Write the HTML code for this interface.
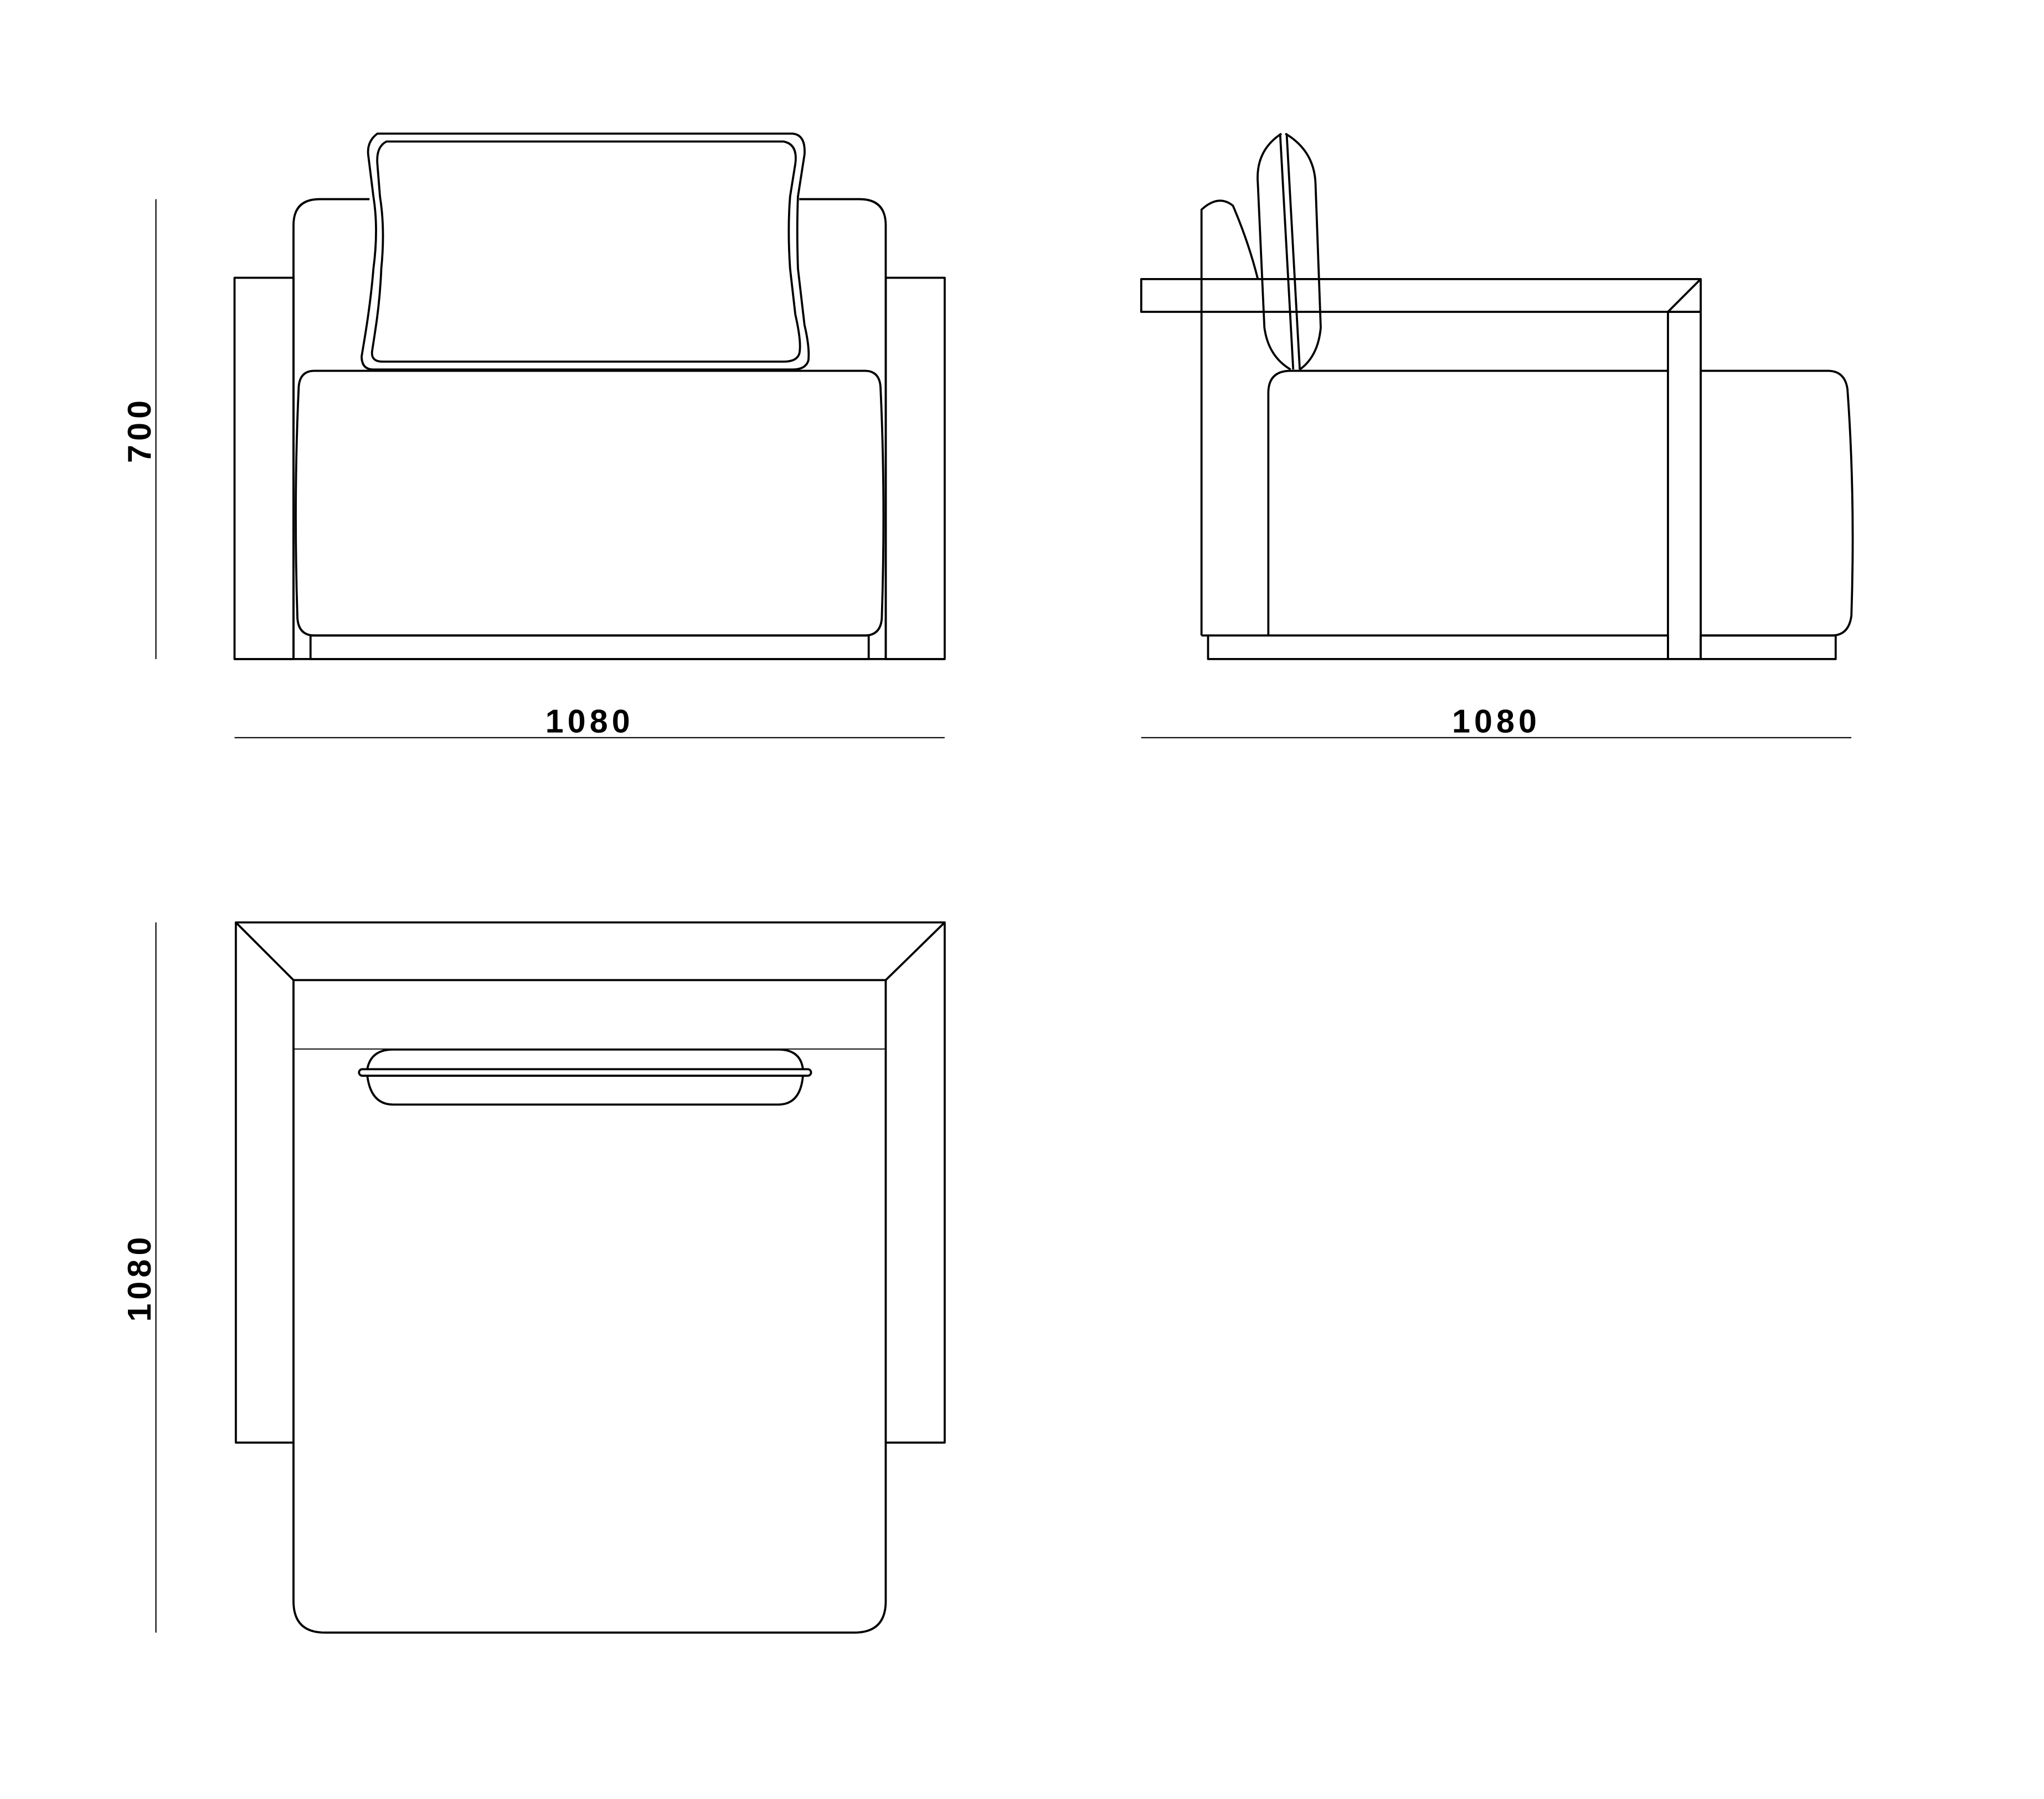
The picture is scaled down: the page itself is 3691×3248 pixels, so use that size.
<!DOCTYPE html>
<html><head><meta charset="utf-8"><style>
html,body{margin:0;padding:0;background:#fff;}
svg{display:block;}
text{font-family:"Liberation Sans",sans-serif;font-size:25px;font-weight:bold;letter-spacing:3px;fill:#000;}
</style></head><body>
<svg width="3691" height="3248" viewBox="0 0 1560 1373" preserveAspectRatio="none" xmlns="http://www.w3.org/2000/svg">
<g fill="none" stroke="#000" stroke-width="1.6" stroke-linejoin="round">
<!-- FRONT VIEW -->
<rect x="179" y="212" width="45" height="291"/>
<rect x="676" y="212" width="45" height="291"/>
<line x1="179" y1="503" x2="721" y2="503"/>
<path d="M224 503 V172 Q224 152 244 152 H282"/>
<path d="M610 152 H656 Q676 152 676 172 V503"/>
<rect x="237" y="485" width="426" height="18"/>
<path d="M240 283 H660 Q671 283 672 295 Q676 380 673 472 Q672 485 660 485 H240 Q228 485 227 472 Q224 380 228 295 Q229 283 240 283 Z"/>
<path d="M288 102 H605 Q615 103 614 118 L609 150 Q608 175 609 205 L614 248 Q618 265 617 275 Q615 282 605 282 H285 Q276 282 276 272 L278 260 Q283 230 285 205 Q289 175 285 150 L281 118 Q280 108 288 102 Z"/>
<path d="M295 108 H598 Q609 110 607 125 L603 150 Q601 175 603 205 L607 240 Q612 262 610 270 Q608 276 598 276 H292 Q283 276 284 268 L286 255 Q290 230 291 205 Q294 175 290 150 L288 125 Q287 112 295 108 Z"/>
<!-- SIDE VIEW -->
<path d="M917 485 V160 Q930 148 941 157 Q953 185 960 213"/>
<rect x="871" y="213" width="427" height="25"/>
<line x1="1273" y1="238" x2="1298" y2="213"/>
<rect x="1273" y="238" width="25" height="265"/>
<rect x="922" y="485" width="351" height="18"/>
<rect x="1298" y="485" width="103" height="18"/>
<line x1="917" y1="485" x2="922" y2="485"/>
<path d="M968 485 V300 Q968 283 985 283 H1273"/>
<path d="M1298 283 H1395 Q1408 283 1410 297 Q1416 380 1413 470 Q1411 485 1398 485 H1298"/>
<path d="M978 102 Q958 115 960 140 L965 250 Q968 272 985 282"/>
<path d="M981 102 Q1003 115 1004 140 L1008 250 Q1006 272 992 282"/>
<line x1="977" y1="102" x2="987" y2="282"/>
<line x1="982" y1="102" x2="992" y2="282"/>
<!-- TOP VIEW -->
<rect x="180" y="704" width="541" height="397"/>
<line x1="180" y1="704" x2="224" y2="748"/>
<line x1="721" y1="704" x2="676" y2="748"/>
<rect x="224" y="748" width="452" height="53" fill="#fff"/>
<path d="M224 801 V1222 Q224 1246 248 1246 H652 Q676 1246 676 1222 V801" fill="#fff"/>
<path d="M300 801 H594 Q612 801 613 818 Q612 843 594 843 H300 Q282 843 280 818 Q282 801 300 801 Z"/>
<rect x="274" y="816" width="345" height="5" rx="2.5" fill="#fff"/>
</g>
<!-- Dimensions -->
<g stroke="#000" stroke-width="0.9">
<line x1="119" y1="152" x2="119" y2="503"/>
<line x1="179" y1="563" x2="721" y2="563"/>
<line x1="871" y1="563" x2="1413" y2="563"/>
<line x1="119" y1="704" x2="119" y2="1246"/>
</g>
<text x="450" y="559" text-anchor="middle">1080</text>
<text x="1142" y="559" text-anchor="middle">1080</text>
<text transform="translate(115 328) rotate(-90)" text-anchor="middle">700</text>
<text transform="translate(115 975) rotate(-90)" text-anchor="middle">1080</text>
</svg>
</body></html>
